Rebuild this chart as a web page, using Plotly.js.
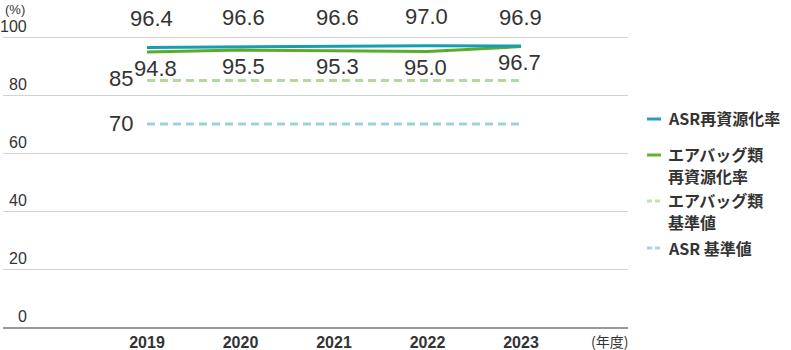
<!DOCTYPE html>
<html>
<head>
<meta charset="utf-8">
<script src="https://cdn.plot.ly/plotly-3.0.1.min.js"></script>
<style>
  html, body { margin: 0; padding: 0; background: #fff; }
  #chart { width: 791px; height: 350px; }
</style>
</head>
<body>
<div id="chart"></div>
<script>
// Fiscal years on the x axis
const years = ['2019', '2020', '2021', '2022', '2023'];
// Recycling rates (%)
const asrRate = [96.4, 96.6, 96.6, 97.0, 96.9];
const airbagRate = [94.8, 95.5, 95.3, 95.0, 96.7];
// Statutory standards (%)
const airbagStandard = [85, 85, 85, 85, 85];
const asrStandard = [70, 70, 70, 70, 70];
// Y axis ticks
const yTicks = [0, 20, 40, 60, 80, 100];
const seriesNames = ['ASR再資源化率', 'エアバッグ類<br>再資源化率', 'エアバッグ類<br>基準値', 'ASR 基準値'];
const unitY = '(%)';
const unitX = '(年度)';

const W = 791, H = 350;
const M = { l: 3, r: 163, t: 36, b: 23 };
const plotW = W - M.l - M.r, plotH = H - M.t - M.b;
const px = x => (x - M.l) / plotW;          // pixel x -> paper x
const py = y => (H - M.b - y) / plotH;      // pixel y -> paper y

const colors = {
  asr: '#169db3',
  airbag: '#5bab2b',
  airbagStd: '#b3d99a',
  asrStd: '#9dd1dc',
  legAsr: '#2b99c9',
  legAirbag: '#66b22e',
  legAirbagStd: '#c4e2ad',
  legAsrStd: '#acd0e2'
};
const textColor = '#333333';
const numFont = 'Liberation Sans, Arial, sans-serif';
const jpFont = 'Noto Sans CJK JP, Liberation Sans, sans-serif';

const traces = [
  { x: years, y: asrStandard, mode: 'lines', line: { color: colors.asrStd, width: 3, dash: '8px,5px' }, name: seriesNames[3] },
  { x: years, y: airbagStandard, mode: 'lines', line: { color: colors.airbagStd, width: 3, dash: '8px,5px' }, name: seriesNames[2] },
  { x: years, y: airbagRate, mode: 'lines', line: { color: colors.airbag, width: 3 }, name: seriesNames[1] },
  { x: years, y: asrRate, mode: 'lines', line: { color: colors.asr, width: 3 }, name: seriesNames[0] }
];

const annotations = [];

// Value labels: ASR above its line, airbags below theirs (x given as category index)
const topNudge = [4, 3, 3, -1, -1];
const bottomNudge = [8, 3, 3, -2, -2];
years.forEach((yr, i) => {
  annotations.push({
    x: i, y: asrRate[i], xref: 'x', yref: 'y', yshift: 29, xshift: topNudge[i],
    text: asrRate[i].toFixed(1), showarrow: false,
    font: { family: numFont, size: 22, color: textColor }
  });
  annotations.push({
    x: i, y: airbagRate[i], xref: 'x', yref: 'y', yshift: -16, xshift: bottomNudge[i],
    text: airbagRate[i].toFixed(1), showarrow: false,
    font: { family: numFont, size: 22, color: textColor }
  });
});

// Standard values at the start of the dashed lines
[[airbagStandard, 2], [asrStandard, 1]].forEach(([arr, ys]) => {
  annotations.push({
    x: 0, y: arr[0], xref: 'x', yref: 'y', xanchor: 'right', xshift: -12, yshift: ys,
    text: String(arr[0]), showarrow: false,
    font: { family: numFont, size: 22, color: textColor }
  });
});

// Y tick labels sitting above their gridlines
yTicks.forEach(v => {
  annotations.push({
    x: px(28), y: v, xref: 'paper', yref: 'y', xanchor: 'right', yanchor: 'bottom', yshift: 1,
    text: String(v), showarrow: false, borderpad: 0,
    font: { family: numFont, size: 16, color: textColor }
  });
});

// Axis units
annotations.push({
  x: px(4), y: py(1), xref: 'paper', yref: 'paper', xanchor: 'left', yanchor: 'top',
  text: unitY, showarrow: false, borderpad: 0,
  font: { family: numFont, size: 13, color: textColor }
});
annotations.push({
  x: px(589), y: py(341), xref: 'paper', yref: 'paper', xanchor: 'left', yanchor: 'middle',
  text: unitX, showarrow: false, font: { family: jpFont, size: 14, color: textColor }
});

// Legend: a short swatch per series, each text line placed on its own
const legend = [
  { name: seriesNames[0], color: colors.legAsr, dash: 'solid', y: 119, lines: [118] },
  { name: seriesNames[1], color: colors.legAirbag, dash: 'solid', y: 155, lines: [154, 176] },
  { name: seriesNames[2], color: colors.legAirbagStd, dash: '5px,3px', y: 201, lines: [200, 222] },
  { name: seriesNames[3], color: colors.legAsrStd, dash: '5px,3px', y: 248, lines: [248] }
];
const shapes = [];
legend.forEach(item => {
  shapes.push({
    type: 'line', xref: 'paper', yref: 'paper',
    x0: px(647), x1: px(661), y0: py(item.y), y1: py(item.y),
    line: { color: item.color, width: 3, dash: item.dash }
  });
  item.name.split('<br>').forEach((part, k) => {
    annotations.push({
      x: px(667), y: py(item.lines[k]), xref: 'paper', yref: 'paper', xanchor: 'left', yanchor: 'middle',
      align: 'left', text: part, showarrow: false, borderpad: 0,
      font: { family: jpFont, size: 16, color: textColor, weight: 'bold' }
    });
  });
});

const layout = {
  width: W, height: H,
  margin: M,
  paper_bgcolor: '#fff', plot_bgcolor: '#fff',
  showlegend: false,
  xaxis: {
    type: 'category',
    range: [(M.l - 147) / 93.5, (W - M.r - 147) / 93.5],
    showgrid: false, zeroline: false,
    showline: true, linecolor: '#999', linewidth: 2,
    ticks: '', ticklen: 0,
    tickfont: { family: numFont, size: 16, color: textColor, weight: 'bold' },
    fixedrange: true
  },
  yaxis: {
    range: [0, 100.35],
    tickvals: yTicks, showticklabels: false,
    showgrid: true, gridcolor: '#d2d2d2', gridwidth: 1,
    zeroline: false, showline: false,
    fixedrange: true
  },
  annotations: annotations,
  shapes: shapes
};

Plotly.newPlot('chart', traces, layout, { displayModeBar: false, staticPlot: true });
</script>
</body>
</html>
